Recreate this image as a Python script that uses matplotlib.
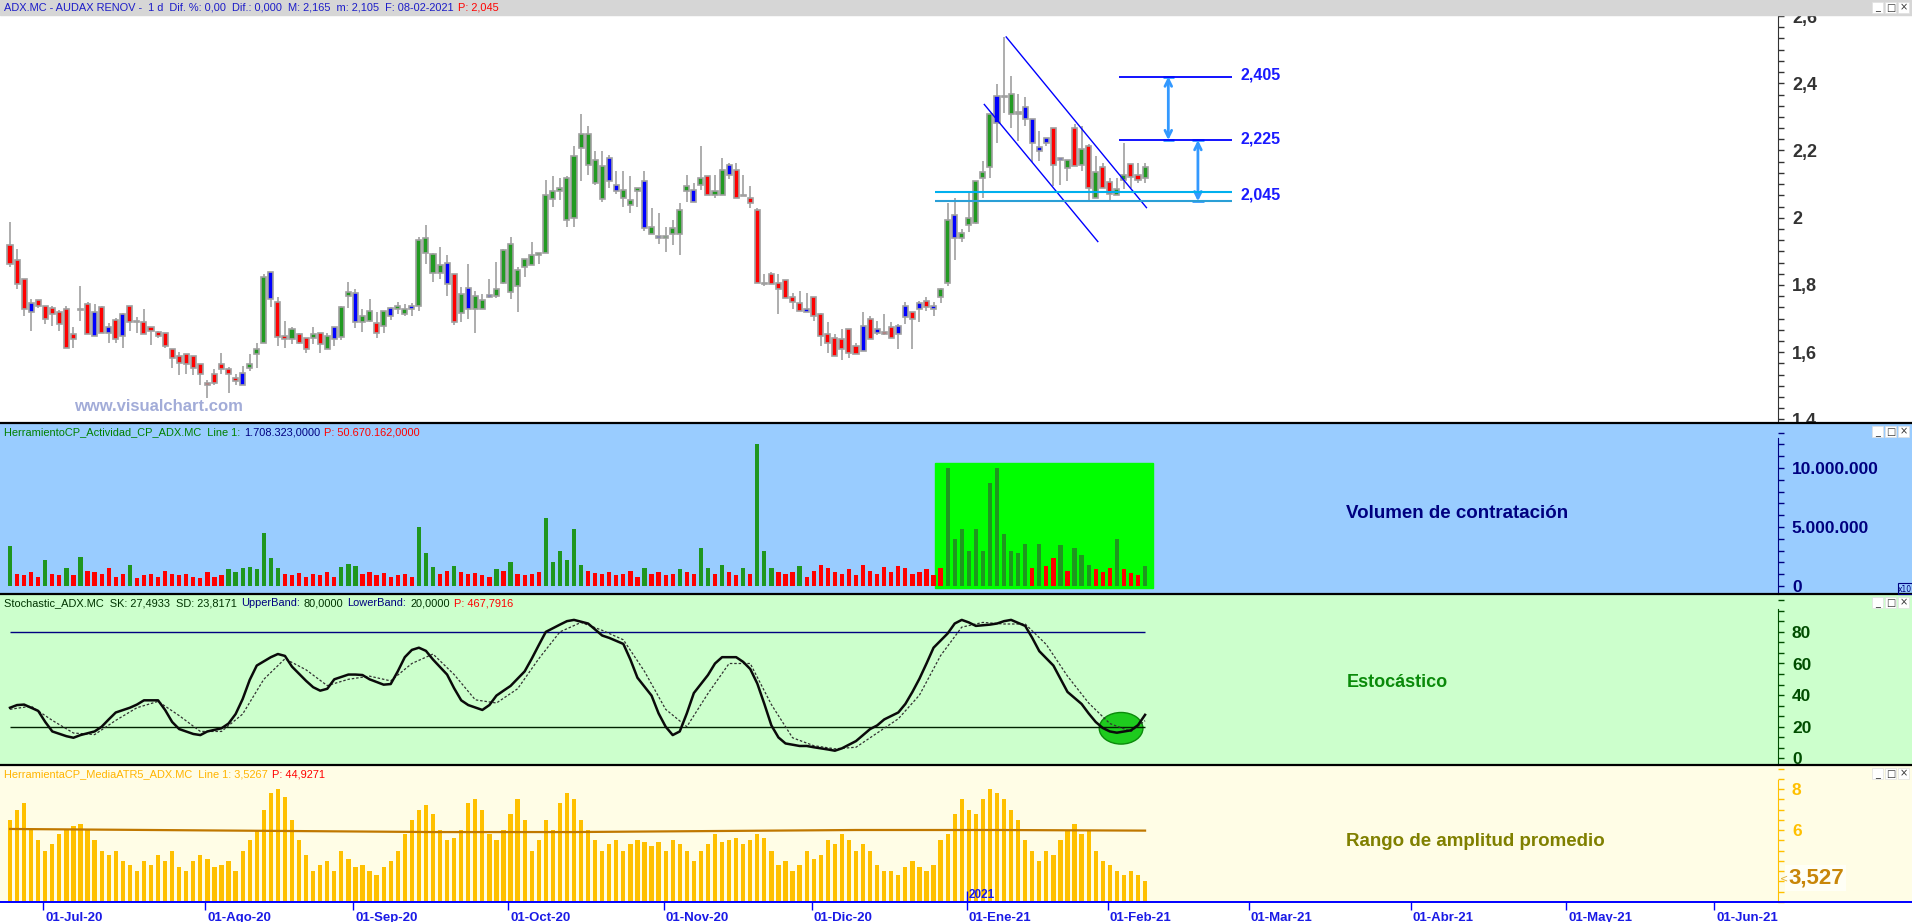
import matplotlib
matplotlib.use('Agg')
import matplotlib.pyplot as plt
from matplotlib.patches import Rectangle, Ellipse
from matplotlib.ticker import MultipleLocator, FixedLocator
from matplotlib.transforms import Affine2D
import numpy as np
import pandas as pd

W, H = 1912, 922
FONT = 'Liberation Sans'

# ---------------- data ----------------
first_day = '2020-06-24'
last_day = '2021-02-08'
holidays = ['2020-12-25', '2021-01-01']
axis_end = '2021-06-30'

opens = [1.918, 1.873, 1.817, 1.747, 1.756, 1.736, 1.732, 1.718, 1.727, 1.653,
         1.727, 1.742, 1.718, 1.733, 1.676, 1.697, 1.712, 1.736, 1.691, 1.689,
         1.676, 1.661, 1.656, 1.608, 1.587, 1.595, 1.587, 1.564, 1.508, 1.534,
         1.564, 1.549, 1.522, 1.537, 1.552, 1.593, 1.626, 1.837, 1.748, 1.648,
         1.640, 1.653, 1.641, 1.642, 1.656, 1.608, 1.676, 1.646, 1.766, 1.777,
         1.690, 1.693, 1.688, 1.678, 1.732, 1.729, 1.712, 1.736, 1.736, 1.896,
         1.836, 1.836, 1.866, 1.831, 1.717, 1.792, 1.727, 1.727, 1.767, 1.766,
         1.807, 1.778, 1.796, 1.853, 1.858, 1.888, 1.896, 2.057, 2.078, 1.992,
         2.000, 2.206, 2.156, 2.102, 2.057, 2.177, 2.096, 2.060, 2.037, 2.078,
         2.108, 1.952, 1.947, 1.939, 1.952, 1.952, 2.078, 2.081, 2.096, 2.123,
         2.067, 2.067, 2.156, 2.141, 2.066, 2.060, 2.022, 1.807, 1.831, 1.807,
         1.816, 1.765, 1.747, 1.727, 1.765, 1.712, 1.653, 1.641, 1.638, 1.668,
         1.618, 1.678, 1.698, 1.668, 1.661, 1.675, 1.677, 1.736, 1.719, 1.747,
         1.752, 1.737, 1.765, 1.807, 2.007, 1.941, 1.977, 1.985, 2.117, 2.152,
         2.361, 2.359, 2.308, 2.310, 2.330, 2.295, 2.211, 2.236, 2.266, 2.177,
         2.147, 2.266, 2.156, 2.213, 2.058, 2.152, 2.107, 2.068, 2.111, 2.161,
         2.126, 2.119]
highs = [1.987, 1.906, 1.817, 1.757, 1.756, 1.736, 1.736, 1.724, 1.736, 1.675,
         1.797, 1.749, 1.742, 1.736, 1.688, 1.702, 1.717, 1.736, 1.704, 1.728,
         1.676, 1.663, 1.656, 1.608, 1.601, 1.595, 1.587, 1.564, 1.517, 1.549,
         1.596, 1.557, 1.534, 1.559, 1.593, 1.628, 1.831, 1.837, 1.765, 1.693,
         1.675, 1.658, 1.641, 1.675, 1.656, 1.656, 1.676, 1.737, 1.809, 1.787,
         1.727, 1.757, 1.718, 1.721, 1.734, 1.749, 1.744, 1.747, 1.943, 1.978,
         1.896, 1.914, 1.889, 1.831, 1.795, 1.861, 1.782, 1.772, 1.817, 1.868,
         1.907, 1.943, 1.853, 1.876, 1.928, 1.896, 2.112, 2.124, 2.117, 2.124,
         2.213, 2.310, 2.273, 2.198, 2.198, 2.187, 2.139, 2.139, 2.124, 2.087,
         2.139, 2.030, 2.015, 1.972, 1.992, 2.045, 2.127, 2.103, 2.213, 2.123,
         2.127, 2.177, 2.163, 2.163, 2.127, 2.094, 2.028, 1.833, 1.838, 1.833,
         1.816, 1.777, 1.782, 1.777, 1.765, 1.717, 1.690, 1.655, 1.668, 1.668,
         1.628, 1.719, 1.707, 1.693, 1.712, 1.690, 1.683, 1.749, 1.719, 1.752,
         1.764, 1.749, 1.792, 2.045, 2.060, 1.965, 2.080, 2.109, 2.169, 2.308,
         2.397, 2.538, 2.422, 2.367, 2.360, 2.295, 2.258, 2.236, 2.266, 2.177,
         2.171, 2.280, 2.273, 2.218, 2.184, 2.162, 2.119, 2.119, 2.221, 2.161,
         2.162, 2.162]
lows = [1.854, 1.789, 1.707, 1.663, 1.732, 1.685, 1.678, 1.663, 1.611, 1.613,
        1.693, 1.653, 1.648, 1.656, 1.628, 1.628, 1.613, 1.663, 1.658, 1.653,
        1.620, 1.641, 1.613, 1.554, 1.531, 1.534, 1.532, 1.501, 1.464, 1.502,
        1.536, 1.479, 1.501, 1.501, 1.544, 1.554, 1.626, 1.734, 1.618, 1.613,
        1.625, 1.623, 1.598, 1.623, 1.598, 1.608, 1.618, 1.635, 1.730, 1.671,
        1.661, 1.691, 1.641, 1.658, 1.695, 1.712, 1.707, 1.707, 1.722, 1.863,
        1.810, 1.819, 1.767, 1.680, 1.691, 1.699, 1.658, 1.727, 1.762, 1.760,
        1.804, 1.759, 1.720, 1.824, 1.858, 1.861, 1.896, 2.032, 2.054, 1.972,
        1.972, 2.109, 2.127, 2.097, 2.048, 2.087, 2.070, 2.032, 2.015, 2.032,
        1.960, 1.952, 1.923, 1.899, 1.919, 1.889, 2.048, 2.046, 2.081, 2.067,
        2.060, 2.067, 2.114, 2.060, 2.064, 2.028, 1.807, 1.797, 1.802, 1.714,
        1.760, 1.729, 1.722, 1.719, 1.693, 1.618, 1.598, 1.588, 1.576, 1.583,
        1.593, 1.603, 1.638, 1.650, 1.650, 1.641, 1.610, 1.683, 1.610, 1.691,
        1.722, 1.707, 1.747, 1.797, 1.873, 1.929, 1.957, 1.980, 2.060, 2.119,
        2.223, 2.311, 2.268, 2.228, 2.273, 2.167, 2.169, 2.213, 2.094, 2.097,
        2.109, 2.154, 2.139, 2.047, 2.058, 2.087, 2.047, 2.068, 2.084, 2.089,
        2.104, 2.104]
closes = [1.861, 1.802, 1.727, 1.719, 1.736, 1.698, 1.712, 1.683, 1.611, 1.638,
          1.725, 1.653, 1.648, 1.656, 1.656, 1.638, 1.648, 1.690, 1.690, 1.653,
          1.663, 1.648, 1.618, 1.581, 1.567, 1.564, 1.553, 1.534, 1.503, 1.508,
          1.549, 1.534, 1.514, 1.501, 1.564, 1.608, 1.823, 1.757, 1.646, 1.638,
          1.668, 1.626, 1.610, 1.653, 1.623, 1.647, 1.640, 1.734, 1.778, 1.690,
          1.706, 1.721, 1.656, 1.721, 1.707, 1.736, 1.727, 1.727, 1.933, 1.939,
          1.891, 1.859, 1.802, 1.689, 1.772, 1.727, 1.766, 1.756, 1.765, 1.787,
          1.903, 1.921, 1.843, 1.876, 1.888, 1.896, 2.067, 2.078, 2.087, 2.117,
          2.183, 2.248, 2.248, 2.171, 2.153, 2.109, 2.078, 2.081, 2.053, 2.087,
          1.970, 1.972, 1.939, 1.947, 1.968, 2.022, 2.093, 2.046, 2.117, 2.067,
          2.078, 2.141, 2.127, 2.060, 2.064, 2.043, 1.807, 1.802, 1.802, 1.787,
          1.762, 1.749, 1.722, 1.719, 1.706, 1.648, 1.626, 1.588, 1.608, 1.596,
          1.593, 1.603, 1.638, 1.656, 1.653, 1.641, 1.653, 1.705, 1.698, 1.727,
          1.734, 1.727, 1.787, 1.992, 1.941, 1.955, 1.998, 2.109, 2.137, 2.308,
          2.281, 2.359, 2.367, 2.310, 2.293, 2.222, 2.198, 2.221, 2.156, 2.171,
          2.171, 2.154, 2.203, 2.087, 2.137, 2.087, 2.072, 2.086, 2.126, 2.122,
          2.112, 2.152]
# g = green, r = red, b = blue, k = grey doji
candle_kind = ''.join(['rrrbrrrrrr', 'brbrbrbrkr', 'rrrrrrrrrr', 'rrrbgggbrr',
                       'grrgrgbggb', 'ggrgbggbgg', 'ggbrgbggbg', 'gggggggggg',
                       'gggggbbggg', 'bgbggggbgr', 'ggbrbrrbrr', 'rrrbrrrrrr',
                       'rbrbrrbbrb', 'rbggbggggg', 'bkgkbbbbrb', 'grgrgrrggr', 'rg'])

volume_m = [3.4, 1.0, 0.9, 1.2, 0.8, 2.2, 1.0, 0.9, 1.5, 0.9,
            2.5, 1.3, 1.2, 1.0, 1.5, 0.8, 1.0, 1.8, 0.7, 0.9,
            1.0, 0.8, 1.3, 1.0, 0.9, 1.0, 0.8, 0.7, 1.2, 0.8,
            0.9, 1.4, 1.2, 1.5, 1.6, 1.4, 4.5, 2.4, 1.5, 1.0,
            0.9, 1.1, 0.8, 1.0, 0.9, 1.2, 0.8, 1.6, 1.9, 1.7,
            1.0, 1.2, 0.9, 1.1, 0.8, 0.9, 1.0, 0.8, 5.0, 2.8,
            1.6, 1.0, 1.3, 1.7, 1.2, 1.0, 1.1, 0.9, 0.8, 1.4,
            1.3, 2.0, 1.0, 0.9, 1.0, 1.2, 5.8, 2.0, 3.0, 2.2,
            4.8, 1.8, 1.3, 1.1, 1.0, 1.2, 0.9, 1.0, 1.3, 0.8,
            1.5, 1.0, 1.2, 0.9, 1.0, 1.4, 1.2, 1.0, 3.2, 1.5,
            1.0, 1.8, 1.2, 0.9, 1.5, 1.0, 12.0, 3.0, 1.5, 1.2,
            1.0, 1.2, 1.7, 0.8, 1.3, 1.8, 1.5, 1.2, 1.0, 1.4,
            0.9, 1.8, 1.3, 1.0, 1.6, 1.2, 1.7, 1.5, 1.0, 1.2,
            1.4, 0.9, 1.5, 10.0, 4.0, 4.8, 3.0, 4.8, 3.0, 8.7,
            10.0, 4.4, 3.0, 2.8, 3.6, 1.5, 3.6, 1.7, 2.4, 3.5,
            1.3, 3.2, 2.6, 1.8, 1.4, 1.2, 1.5, 4.0, 1.4, 1.1,
            0.9, 1.7]
# activity above / below its average: g / r
volume_kind = ''.join(['grrrrgrrgr', 'grrrrrrgrr', 'rrrrrrrrrr', 'rggggggggr',
                       'rrrrrrrggg', 'rrrrrrrrgg', 'grrgrrrrrg', 'rgrrrrgggg',
                       'ggrrrrrrrr', 'grrrrgrrgg', 'rgrrgrgggr', 'rrgrrrrrrr',
                       'rrrrrrrrrr', 'rrrggggggg', 'gggggrgrrg',
                       'rgggrrrgrr', 'rg'])

stoch_idx = [0, 1, 2, 4, 5, 6, 8, 9, 10, 12, 13, 14, 15, 17, 18, 19, 21, 22, 23, 24,
             26, 27, 28, 30, 31, 32, 33, 34, 35, 37, 38, 39, 40, 42, 43, 44, 45, 46, 48, 49,
             50, 51, 53, 54, 55, 56, 57, 58, 59, 60, 62, 63, 64, 65, 67, 68, 69, 70, 71, 73,
             74, 75, 76, 78, 79, 80, 82, 83, 84, 85, 87, 88, 89, 91, 92, 93, 94, 95, 96, 97,
             99, 100, 101, 103, 104, 105, 106, 107, 108, 109, 110, 112, 113, 114, 115, 116, 117, 118, 120, 121,
             122, 123, 124, 126, 127, 128, 129, 130, 131, 133, 134, 135, 136, 137, 139, 140, 141, 142, 144, 145,
             146, 148, 149, 150, 152, 153, 154, 155, 156, 157, 159, 160, 161]
stoch_sk = [32, 33.7, 34, 30, 23, 17, 14, 13, 14.7, 17, 20, 24.6, 29, 32, 34, 36.7, 36.7, 30.6, 23, 18.5,
            15.4, 14.7, 17, 19, 22, 28, 37.5, 49.6, 58.7, 64, 66, 64.8, 58, 49, 45, 42.8, 44, 50, 53, 53,
            52.7, 50, 46.6, 47, 55, 64, 68.6, 70, 68, 62.5, 53, 44.3, 36.7, 33.7, 30.6, 33.7, 39.7, 42.8, 45.8, 55,
            63, 71.6, 80, 84.6, 86.8, 87.6, 85.3, 81.5, 77.7, 76.2, 72.4, 62.5, 51, 39.7, 28.4, 20, 14.7, 17, 28.4, 41.3,
            52.7, 60, 64, 64, 61, 56.5, 47.3, 34.4, 20.8, 13.2, 9.4, 7.8, 7.8, 7, 6.3, 5.6, 4.8, 6.3, 10.9, 14.7,
            18.5, 20.8, 24.6, 29, 34.4, 42, 50.4, 60, 70, 79, 85.3, 87.6, 86, 83.8, 84.6, 85.3, 86.8, 87.6, 83.8, 76.2,
            67.8, 58.7, 50.4, 42, 34.4, 28.4, 23, 19.2, 17, 16.2, 17.7, 21, 27.5]
sd_idx = [0, 3, 6, 9, 12, 15, 18, 21, 24, 27, 30, 33, 36, 39, 42, 45, 48, 51, 54, 57,
          60, 63, 66, 69, 72, 75, 78, 81, 84, 87, 90, 93, 96, 99, 102, 105, 108, 111, 114, 117,
          120, 123, 126, 129, 132, 135, 138, 141, 144, 147, 150, 153, 156, 159, 161]
stoch_sd = [31, 33, 24, 16, 15, 24, 32, 36, 27, 17, 17, 28, 50, 63, 56, 46, 50, 52, 49, 60,
            66, 53, 37, 35, 44, 63, 80, 86, 81, 75, 55, 31, 20, 41, 60, 60, 34, 13, 8, 6,
            7, 16, 25, 40, 65, 83, 86, 85, 85, 72, 52, 35, 22, 17, 23.8]
upper_band = 80
lower_band = 20

atr = [6.5, 7.0, 7.3, 6.0, 5.5, 5.0, 5.3, 5.8, 6.0, 6.2,
       6.3, 6.0, 5.5, 5.0, 4.8, 5.0, 4.5, 4.3, 4.0, 4.5,
       4.3, 4.8, 4.5, 5.0, 4.2, 4.0, 4.5, 4.8, 4.6, 4.2,
       4.3, 4.5, 4.0, 5.0, 5.5, 6.0, 7.0, 7.8, 8.0, 7.6,
       6.5, 5.5, 4.8, 4.0, 4.3, 4.5, 4.0, 5.0, 4.6, 4.2,
       4.3, 4.0, 3.8, 4.2, 4.5, 5.0, 5.8, 6.5, 7.0, 7.2,
       6.8, 6.0, 5.5, 5.6, 6.0, 7.3, 7.5, 7.0, 5.8, 5.5,
       6.0, 6.8, 7.5, 6.5, 5.0, 5.5, 6.5, 6.0, 7.3, 7.8,
       7.5, 6.5, 6.0, 5.5, 5.0, 5.3, 5.5, 5.0, 5.3, 5.5,
       5.4, 5.2, 5.4, 5.0, 5.5, 5.3, 5.0, 4.5, 5.0, 5.3,
       5.8, 5.4, 5.5, 5.6, 5.3, 5.5, 5.8, 5.6, 5.0, 4.3,
       4.5, 4.0, 4.3, 5.0, 4.6, 4.8, 5.5, 5.3, 5.8, 5.5,
       5.0, 5.3, 5.0, 4.3, 4.0, 4.0, 3.8, 4.2, 4.5, 4.2,
       4.0, 4.3, 5.5, 5.8, 6.8, 7.5, 7.0, 6.8, 7.5, 8.0,
       7.8, 7.5, 7.0, 6.5, 5.5, 5.0, 4.5, 5.0, 4.8, 5.5,
       6.0, 6.3, 5.8, 6.0, 5.0, 4.5, 4.3, 4.0, 3.8, 4.0,
       3.8, 3.53]
atr_avg_idx = [0, 20, 40, 60, 80, 100, 120, 140, 161]
atr_avg = [6.05, 6.0, 5.95, 5.9, 5.9, 5.95, 6.0, 6.0, 5.97]

# annotations drawn over the price panel
upper_channel = ([141.3, 161.2], [2.538, 2.030])
lower_channel = ([138.2, 154.3], [2.337, 1.929])
target_levels = [2.42, 2.231]
target_labels = ['2,405', '2,225']
support_levels = [2.076, 2.049]
support_label = '2,045'

MESES = {1: 'Ene', 2: 'Feb', 3: 'Mar', 4: 'Abr', 5: 'May', 6: 'Jun',
         7: 'Jul', 8: 'Ago', 9: 'Sep', 10: 'Oct', 11: 'Nov', 12: 'Dic'}

hist = pd.bdate_range(first_day, last_day)
hist = hist[~hist.isin(pd.to_datetime(holidays))]
future = pd.bdate_range(pd.Timestamp(last_day) + pd.Timedelta(days=1), axis_end)
all_days = hist.append(future)

n = len(closes)
x = np.arange(n)
X0, X1 = -10 / 7.05, 1768 / 7.05

# ---------------- figure ----------------
fig = plt.figure(figsize=(W / 100, H / 100), dpi=100)
px = Affine2D().scale(1 / W, -1 / H).translate(0, 1) + fig.transFigure


def rect(x0, y0, x1, y1):
    return [x0 / W, 1 - y1 / H, (x1 - x0) / W, (y1 - y0) / H]


def band(y0, y1, color, z):
    fig.add_artist(Rectangle((0, y0), W, y1 - y0, transform=px, color=color, zorder=z))


band(15, 423, 'white', -2)
band(0, 15, '#d6d6d6', 0.3)
band(423, 594, '#99ccff', 0.3)
band(594, 765, '#ccffcc', 0.3)
band(765, 902, '#fffde6', 0.3)
band(902, 922, 'white', 0.3)

for yb in (423, 594, 765):
    fig.add_artist(plt.Line2D([0, W], [yb, yb], transform=px, color='black', lw=1.6, zorder=1.5))
fig.add_artist(plt.Line2D([0, W], [902, 902], transform=px, color='#0000ff', lw=1.4, zorder=1.5))

# window buttons
for yt in (1, 425, 596, 767):
    for k, g in enumerate(['_', '□', '×']):
        bx = 1872 + k * 13
        fig.add_artist(Rectangle((bx, yt + 1), 11, 11, transform=px, facecolor='white',
                                 edgecolor='#e0e0e0', lw=0.5, zorder=2))
        fig.text(bx + 5.5, yt + 6.5, g, transform=px, fontsize=7, ha='center', va='center',
                 color='#333333', zorder=2.5, family='DejaVu Sans')

renderer = fig.canvas.get_renderer()


def header(y, parts):
    xx = 4
    for s, c in parts:
        t = fig.text(xx, y, s, transform=px, color=c, fontsize=7.9, va='center', ha='left',
                     family=FONT, zorder=2)
        xx += t.get_window_extent(renderer=renderer).width + 4


header(8, [('ADX.MC - AUDAX RENOV -  1 d  Dif. %: 0,00  Dif.: 0,000  M: 2,165  m: 2,105  F: 08-02-2021', '#1c1cc8'),
           ('P: 2,045', '#ff0000')])
header(432, [('HerramientoCP_Actividad_CP_ADX.MC  Line 1:', '#008000'), ('1.708.323,0000', '#000080'),
             ('P: 50.670.162,0000', '#ff0000')])
header(603, [('Stochastic_ADX.MC  SK: 27,4933  SD: 23,8171', '#003300'), ('UpperBand:', '#000080'),
             ('80,0000', '#003300'), ('LowerBand:', '#000080'), ('20,0000', '#003300'),
             ('P: 467,7916', '#ff0000')])
header(774, [('HerramientaCP_MediaATR5_ADX.MC  Line 1: 3,5267', '#ffb400'), ('P: 44,9271', '#ff0000')])


def setup(ax, lo, hi, spine_top, color, major, minor, labels, size=12.5):
    ax.set_facecolor('none')
    ax.set_xlim(X0, X1)
    ax.set_ylim(lo, hi)
    for s in ('left', 'top', 'bottom'):
        ax.spines[s].set_visible(False)
    ax.spines['right'].set_color(color)
    ax.spines['right'].set_bounds(lo, spine_top)
    ax.xaxis.set_visible(False)
    ax.yaxis.tick_right()
    ax.yaxis.set_major_locator(FixedLocator(major))
    ax.yaxis.set_minor_locator(MultipleLocator(minor))
    ax.set_yticklabels(labels)
    ax.tick_params(axis='y', which='both', direction='out', color=color, length=4, width=1,
                   labelcolor=color, pad=6)
    for t in ax.get_yticklabels():
        t.set_fontweight('bold')
        t.set_fontsize(size)
        t.set_family(FONT)


# ---------------- price panel ----------------
ax = fig.add_axes(rect(0, 15, 1778, 423), zorder=0)
plo, phi = 2 + (217.7 - 423) / 336, 2 + (217.7 - 15) / 336
setup(ax, plo, phi, phi, '#333333', [1.4, 1.6, 1.8, 2.0, 2.2, 2.4, 2.6], 0.2 / 6,
      ['1,4', '1,6', '1,8', '2', '2,2', '2,4', '2,6'], size=13)

face = {'g': '#229a22', 'r': '#ff0000', 'b': '#0000ff', 'k': '#a0a0a0'}
lo_b = np.minimum(opens, closes)
hi_b = np.maximum(opens, closes)
ax.vlines(x, lows, highs, color='#a0a0a0', lw=1.2, zorder=2)
ax.bar(x, np.maximum(hi_b - lo_b, 0.004), bottom=lo_b, width=0.72,
       color=[face[k] for k in candle_kind], edgecolor='#a0a0a0', linewidth=1.2, zorder=3)

ax.plot(*upper_channel, color='#0000ff', lw=1, zorder=4)
ax.plot(*lower_channel, color='#0000ff', lw=1, zorder=4)
ax.hlines(support_levels, 131.2, 173.3, colors=['#00b0ee', '#2a9fd6'], lw=1.5, zorder=4)
ax.hlines(target_levels, 157.3, 173.3, colors='#0000ff', lw=1.3, zorder=4)
for lvl, lab in zip(target_levels, target_labels):
    ax.text(174.6, lvl + 0.004, lab, color='#1a1aff', fontsize=11.5, fontweight='bold',
            va='center', family=FONT)
ax.text(174.6, 2.067, support_label, color='#1a1aff', fontsize=11.5,
        fontweight='bold', va='center', family=FONT)
arrows = [(164.3, target_levels[0], target_levels[1]), (168.5, target_levels[1], support_levels[1])]
for ax_x, top, bot in arrows:
    ax.annotate('', xy=(ax_x, top), xytext=(ax_x, bot),
                arrowprops=dict(arrowstyle='<->', color='#3399ff', lw=2, shrinkA=0, shrinkB=0,
                                mutation_scale=12))
    ax.hlines([top, bot], ax_x - 0.8, ax_x + 0.8, color='#3399ff', lw=2)
ax.text(74 / 7.05 - 1.4, 2 + (217.7 - 406) / 336, 'www.visualchart.com', color='#a2acd8',
        fontsize=12, fontweight='bold', va='center', ha='left', family=FONT)

# ---------------- volume panel ----------------
av = fig.add_axes(rect(0, 423, 1778, 594), zorder=1)
vlo, vhi = -(594 - 586) / 11.8, (586 - 423) / 11.8
setup(av, vlo, vhi, (586 - 438) / 11.8, '#000080', [0, 5, 10], 1,
      ['0', '5.000.000', '10.000.000'])
av.add_patch(Rectangle(((935 - 10) / 7.05, -0.17), (1153 - 935) / 7.05, 10.6,
                       color='#00ff00', zorder=1))
vcol = {'g': '#1f961f', 'r': '#ff0000'}
av.bar(x, volume_m, width=0.6, color=[vcol[k] for k in volume_kind], zorder=2)
av.text(1346 / 7.05 - 1.4, (586 - 513) / 11.8, 'Volumen de contratación', color='#000080',
        fontsize=13.5, fontweight='bold', va='center', ha='left', family=FONT)
fig.add_artist(Rectangle((1898, 583), 14, 11, transform=px, facecolor='none',
                         edgecolor='#000080', lw=0.8, zorder=2))
fig.text(1905, 589, 'x10', transform=px, fontsize=5.5, color='#000080', ha='center',
         va='center', zorder=2.5)

# ---------------- stochastic panel ----------------
ast = fig.add_axes(rect(0, 594, 1778, 765), zorder=1)
slo, shi = -(765 - 758.3) / 1.58, (758.3 - 594) / 1.58
setup(ast, slo, shi, (758.3 - 609) / 1.58, '#004d00', [0, 20, 40, 60, 80], 20 / 3,
      ['0', '20', '40', '60', '80'])
ast.hlines(upper_band, 0, n - 1, color='#000080', lw=1)
ast.hlines(lower_band, 0, n - 1, color='#002200', lw=1)
ast.plot(sd_idx, stoch_sd, color='#333333', lw=0.9, ls=(0, (2, 1.5)))
ast.plot(stoch_idx, stoch_sk, color='#0a0a0a', lw=1.8)
ast.add_patch(Ellipse((157.6, 19), 6.2, 20, facecolor='#1ecb1e', edgecolor='#0b8a0b', lw=1, zorder=1))
ast.text(1347 / 7.05 - 1.4, (758.3 - 682) / 1.58, 'Estocástico', color='#0a8a0a',
         fontsize=13, fontweight='bold', va='center', ha='left', family=FONT)

# ---------------- ATR panel ----------------
aa = fig.add_axes(rect(0, 765, 1778, 902), zorder=1)
alo, ahi = 6 - 72 / 20.5, 6 + 65 / 20.5
setup(aa, alo, ahi, 8 + 9 / 20.5, '#ffc000', [6, 8], 0.5, ['6', '8'])
aa.bar(x, np.array(atr) - alo, bottom=alo, width=0.6, color='#ffc000', zorder=2)
aa.plot(atr_avg_idx, atr_avg, color='#c07800', lw=1.6, zorder=3)
aa.text(1346 / 7.05 - 1.4, 6 + (830 - 841) / 20.5, 'Rango de amplitud promedio', color='#808000',
        fontsize=13.5, fontweight='bold', va='center', ha='left', family=FONT)
fig.text(1788, 878, '3,527', transform=px, color='#c8860a', fontsize=16, fontweight='bold',
         va='center', ha='left', family=FONT, zorder=2.5,
         bbox=dict(boxstyle='square,pad=0.12', facecolor='#fffff6', edgecolor='none'))
fig.text(1780, 878, '<', transform=px, color='#e0b040', fontsize=7, va='center', ha='left',
         zorder=2.5)

# ---------------- date strip ----------------
ad = fig.add_axes(rect(0, 902, 1778, 922), zorder=1)
ad.set_xlim(X0, X1)
ad.set_ylim(0, 1)
ad.axis('off')
month_pos, month_lab = [], []
for i in range(1, len(all_days)):
    if all_days[i].month != all_days[i - 1].month:
        d = all_days[i]
        month_pos.append(i - 0.3)
        month_lab.append('01-%s-%02d' % (MESES[d.month], d.year % 100))
ad.vlines(month_pos, 0.6, 1, color='#0000ff', lw=1)
for p, lab in zip(month_pos, month_lab):
    ad.text(p + 0.3, 0.22, lab, color='#1a1ae6', fontsize=9.5, fontweight='bold', va='center',
            ha='left', family=FONT, clip_on=True)
jan = month_pos[month_lab.index('01-Ene-21')]
aa.vlines(jan, alo, alo + 0.55, color='#0000ff', lw=1)
aa.text(jan + 0.3, alo + 0.35, '2021', color='#1a1ae6', fontsize=8.5, fontweight='bold',
        va='center', ha='left', family=FONT)

fig.savefig('out.png', dpi=100)
